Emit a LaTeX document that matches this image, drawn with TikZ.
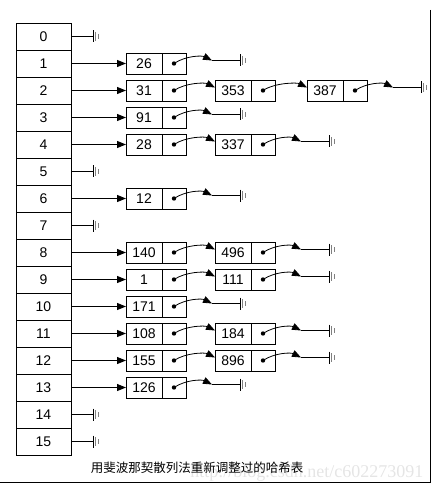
\documentclass[tikz,border=0pt]{standalone}
\usepackage{fontspec}
\setmainfont{Liberation Sans}
\newfontfamily\cjk{Noto Sans CJK SC}
\newfontfamily\wmfont{Liberation Serif}
\usetikzlibrary{arrows.meta,positioning}

% one list element: data part #1, pointer part #1p
\newcommand\lnode[4]{%
  \node[dat, anchor=west] (#1) at (#2, 36.5+27*#3) {#4};
  \node[ptr, right=0pt of #1] (#1p) {};
  \fill (#1p.center) circle (2.2);
}
% link from element #1 to element #2
\newcommand\lnext[2]{%
  \draw[link] (#1p.center) .. controls +(12,-8) and +(-10,-5) .. ([yshift=3pt]#2.west);
}
% last element #1, null end at coordinate #2
\newcommand\ltail[2]{%
  \coordinate (#2) at ([xshift=26pt,yshift=3pt]#1p.east);
  \coordinate (#2g) at ([xshift=54pt,yshift=3pt]#1p.east);
  \draw[link] (#1p.center) .. controls +(12,-8) and +(-10,-5) .. (#2);
  \draw (#2) -- (#2g);
  \pic at (#2g) {gnd};
}

\begin{document}
\begin{tikzpicture}[x=1pt, y=-1pt, line width=0.8pt,
    cell/.style={draw, minimum width=55pt, minimum height=27pt, inner sep=0pt,
      outer sep=0pt, font=\fontsize{14}{16}\selectfont},
    dat/.style={draw, minimum width=36pt, minimum height=21pt, inner sep=0pt,
      outer sep=0pt, font=\fontsize{14}{16}\selectfont},
    ptr/.style={draw, minimum width=24pt, minimum height=21pt, inner sep=0pt,
      outer sep=0pt},
    arr/.style={-{Triangle[length=9pt,width=7pt]}},
    link/.style={-{Triangle[length=9pt,width=7pt]}},
    gnd/.pic={
      \draw (0,-6) -- (0,6);
      \draw[gray] (2.5,-4.5) -- (2.5,4.5);
      \draw[gray] (5,-2.5) -- (5,2.5);
    }
  ]
  \useasboundingbox (0,0) rectangle (438,494);

  % frame
  \draw[line width=1pt] (430,10) -- (430,482) -- (0,482);

  % hash table
  \foreach \i in {0,...,15}
    \node[cell] (c\i) at (43.5, 36.5+27*\i) {\i};

  % empty slots
  \foreach \i in {0,5,7,14,15} {
    \coordinate (g\i) at ([xshift=22pt]c\i.east);
    \draw (c\i) -- (g\i);
    \pic at (g\i) {gnd};
  }

  % chains
  \lnode{a1}{126}{1}{26}
  \lnode{a2}{126}{2}{31}
  \lnode{b2}{215}{2}{353}
  \lnode{x2}{307}{2}{387}
  \lnode{a3}{126}{3}{91}
  \lnode{a4}{126}{4}{28}
  \lnode{b4}{215}{4}{337}
  \lnode{a6}{126}{6}{12}
  \lnode{a8}{126}{8}{140}
  \lnode{b8}{215}{8}{496}
  \lnode{a9}{126}{9}{1}
  \lnode{b9}{215}{9}{111}
  \lnode{a10}{126}{10}{171}
  \lnode{a11}{126}{11}{108}
  \lnode{b11}{215}{11}{184}
  \lnode{a12}{126}{12}{155}
  \lnode{b12}{215}{12}{896}
  \lnode{a13}{126}{13}{126}

  \foreach \i in {1,2,3,4,6,8,9,10,11,12,13}
    \draw[arr] (c\i) -- (a\i);

  \lnext{a2}{b2}
  \lnext{b2}{x2}
  \lnext{a4}{b4}
  \lnext{a8}{b8}
  \lnext{a9}{b9}
  \lnext{a11}{b11}
  \lnext{a12}{b12}

  \ltail{a1}{e1}
  \ltail{x2}{e2}
  \ltail{a3}{e3}
  \ltail{b4}{e4}
  \ltail{a6}{e6}
  \ltail{b8}{e8}
  \ltail{b9}{e9}
  \ltail{a10}{e10}
  \ltail{b11}{e11}
  \ltail{b12}{e12}
  \ltail{a13}{e13}

  % caption
  \node[anchor=east, text=gray!20, font=\wmfont\fontsize{18}{20}\selectfont]
    (mark) at (427,473) {http://blog.csdn.net/c602273091};
  \node[font=\cjk\fontsize{12.5}{14}\selectfont] (cap) at (197,468)
    {用斐波那契散列法重新调整过的哈希表};
\end{tikzpicture}
\end{document}
